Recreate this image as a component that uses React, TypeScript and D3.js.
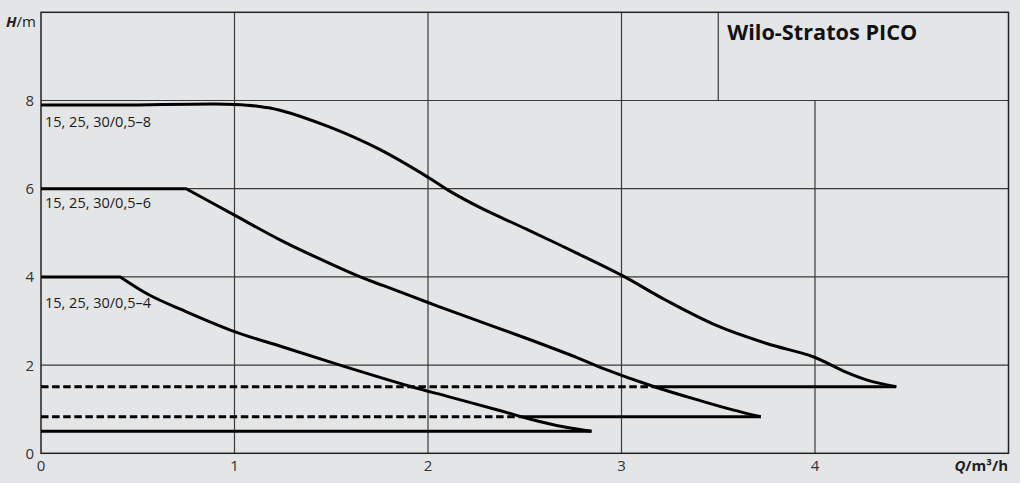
import React from 'react';
import * as d3 from 'd3';

// Pump curves
const q8 = [0, 0.5, 0.9, 1.0, 1.12, 1.235, 1.49, 1.75, 2.0, 2.11, 2.27, 2.5, 2.75, 3.0, 3.23, 3.49, 3.75, 3.99, 4.16, 4.27, 4.42];
const h8 = [7.9, 7.9, 7.92, 7.91, 7.87, 7.78, 7.4, 6.89, 6.26, 5.95, 5.57, 5.1, 4.58, 4.04, 3.47, 2.9, 2.49, 2.19, 1.84, 1.66, 1.51];
const q6 = [0, 0.75, 1.0, 1.235, 1.41, 1.65, 1.77, 2.0, 2.11, 2.5, 2.77, 2.89, 3.17, 3.41, 3.58, 3.72];
const h6 = [6, 6, 5.4, 4.84, 4.47, 4.0, 3.8, 3.42, 3.24, 2.62, 2.17, 1.95, 1.51, 1.19, 0.98, 0.83];
const q4 = [0, 0.41, 0.56, 0.73, 1.0, 1.25, 1.545, 1.907, 2.11, 2.37, 2.54, 2.7, 2.845];
const h4 = [4, 4, 3.59, 3.25, 2.76, 2.41, 2.0, 1.52, 1.28, 0.97, 0.76, 0.6, 0.5];

const curveNames = ['15, 25, 30/0,5–8', '15, 25, 30/0,5–6', '15, 25, 30/0,5–4'];
// minimum-head lines: head, end flow, and flow where the dashed part stops
const minHead = [1.51, 0.83, 0.5];
const minEnd = [4.42, 3.72, 2.845];
const dashEnd = [3.17, 2.47, 0];

const xTicks = [0, 1, 2, 3, 4];
const yTicks = [0, 2, 4, 6, 8];
const title = 'Wilo-Stratos PICO';

const W = 1020;
const H = 483;

const App: React.FC = () => {
  const x = d3.scaleLinear().domain([0, 5]).range([41, 1008.5]);
  const y = d3.scaleLinear().domain([0, 10]).range([453.3, 12.3]);

  const curves = [
    q8.map((q, i) => [q, h8[i]] as [number, number]),
    q6.map((q, i) => [q, h6[i]] as [number, number]),
    q4.map((q, i) => [q, h4[i]] as [number, number]),
  ];

  // flat part straight, falling part smoothed
  const smooth = d3.line<[number, number]>().x(d => x(d[0])).y(d => y(d[1])).curve(d3.curveCatmullRom.alpha(0.5));
  const pathFor = (pts: [number, number][]) => {
    let k = 0;
    while (k + 1 < pts.length && pts[k + 1][1] === pts[0][1]) k++;
    const flat = k > 0 ? `M${x(pts[0][0])},${y(pts[0][1])}L${x(pts[k][0])},${y(pts[k][1])}` : '';
    const rest = smooth(pts.slice(k)) || '';
    return flat + (flat ? rest.replace(/^M/, 'L') : rest);
  };

  const labelOffsets = [22, 19, 31];
  const grid = '#3a3a3a';
  const font = '"Open Sans", "DejaVu Sans", sans-serif';

  return (
    <svg width={W} height={H} style={{ position: 'absolute', left: 0, top: 0 }} fontFamily={font}>
      <rect width={W} height={H} fill="#e4e5e6" />

      {/* grid */}
      {xTicks.slice(1).map(t => (
        <line key={'gx' + t} x1={x(t)} x2={x(t)} y1={y(0)} y2={t === 4 ? y(8) : y(10)} stroke={grid} strokeWidth={1.2} />
      ))}
      {yTicks.slice(1).map(t => (
        <line key={'gy' + t} x1={x(0)} x2={x(5)} y1={y(t)} y2={y(t)} stroke={grid} strokeWidth={1.2} />
      ))}
      {/* title box */}
      <line x1={x(3.5)} x2={x(3.5)} y1={y(10)} y2={y(8)} stroke={grid} strokeWidth={1.2} />
      <rect x={x(0)} y={y(10)} width={x(5) - x(0)} height={y(0) - y(10)} fill="none" stroke="#222" strokeWidth={1.5} />

      {/* minimum-head lines */}
      {minHead.map((mh, i) => (
        <g key={'m' + i}>
          {dashEnd[i] > 0 && (
            <line x1={x(0)} x2={x(dashEnd[i])} y1={y(mh)} y2={y(mh)} stroke="#000" strokeWidth={3} strokeDasharray="7.5,3.6" />
          )}
          <line x1={x(dashEnd[i])} x2={x(minEnd[i])} y1={y(mh)} y2={y(mh)} stroke="#000" strokeWidth={3} />
        </g>
      ))}

      {/* pump curves */}
      {curves.map((c, i) => (
        <path key={'c' + i} d={pathFor(c)} fill="none" stroke="#000" strokeWidth={3} strokeLinejoin="round" />
      ))}

      {/* curve labels */}
      {curves.map((c, i) => (
        <text key={'l' + i} x={x(0) + 4} y={y(c[0][1]) + labelOffsets[i]} fontSize={14.5} fill="#1a1a1a">
          {curveNames[i]}
        </text>
      ))}

      {/* tick labels */}
      {yTicks.map(t => (
        <text key={'ty' + t} x={34} y={y(t)} dy="0.36em" textAnchor="end" fontSize={15} fill="#333">{t}</text>
      ))}
      {xTicks.map(t => (
        <text key={'tx' + t} x={x(t)} y={471} textAnchor="middle" fontSize={15} fill="#333">{t}</text>
      ))}

      <text x={36} y={27} textAnchor="end" fontSize={15} fill="#222">
        <tspan fontWeight={700} fontStyle="italic">H</tspan>
        <tspan>/m</tspan>
      </text>
      <text x={1008} y={470.5} textAnchor="end" fontSize={15} fill="#222" fontWeight={700}>
        <tspan fontStyle="italic">Q</tspan>
        <tspan>/m³/h</tspan>
      </text>

      <text x={x(3.5) + 9} y={40} fontSize={22} fontWeight={700} fill="#111" textLength={190} lengthAdjust="spacingAndGlyphs">{title}</text>
    </svg>
  );
};

export default App;
